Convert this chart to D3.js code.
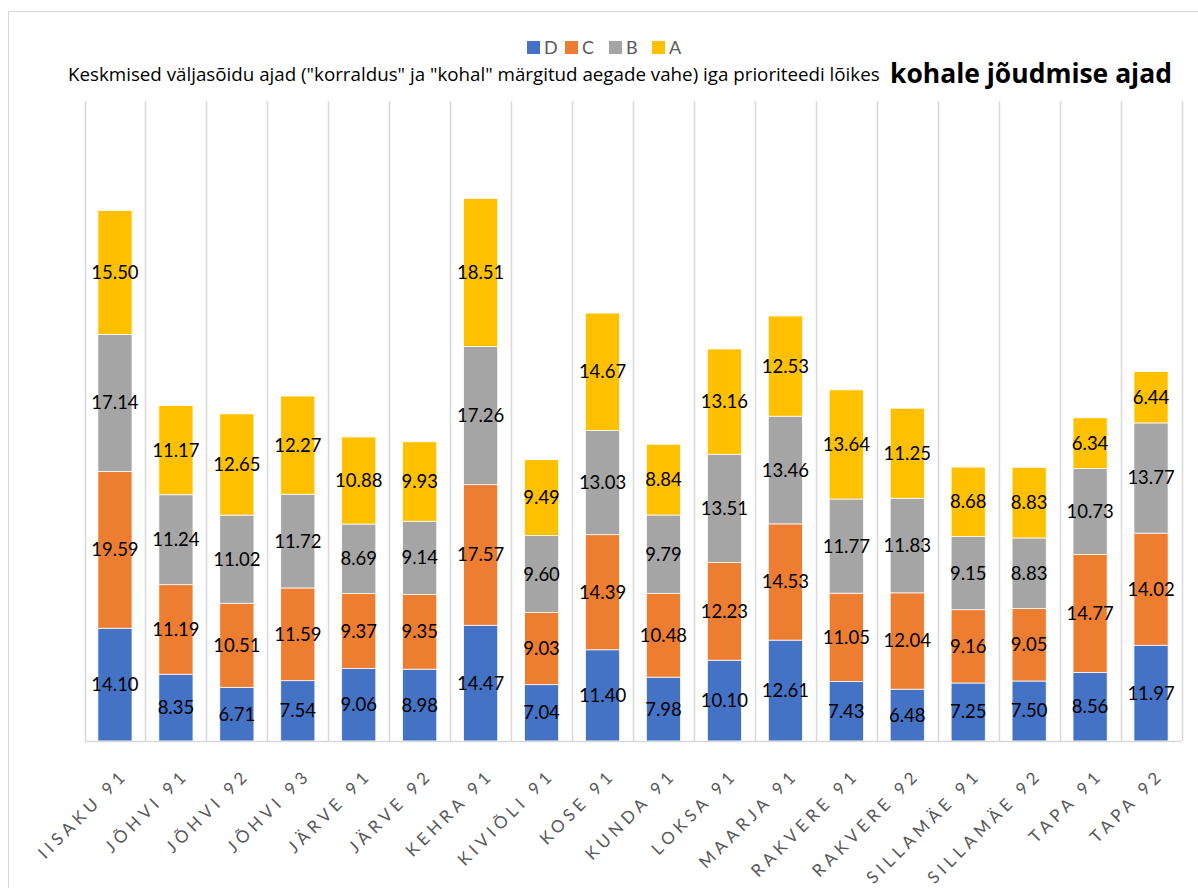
<!DOCTYPE html>
<html><head><meta charset="utf-8">
<script src="https://cdn.jsdelivr.net/npm/d3@7"></script>
<style>
body{margin:0;background:#fff;}
svg{display:block;}
</style></head>
<body>
<svg id="chart" width="1198" height="888"></svg>
<script>
const categories = ["IISAKU 91","JÕHVI 91","JÕHVI 92","JÕHVI 93","JÄRVE 91","JÄRVE 92","KEHRA 91","KIVIÕLI 91","KOSE 91","KUNDA 91","LOKSA 91","MAARJA 91","RAKVERE 91","RAKVERE 92","SILLAMÄE 91","SILLAMÄE 92","TAPA 91","TAPA 92"];
const seriesNames = ["D","C","B","A"];
const valuesD = [14.10,8.35,6.71,7.54,9.06,8.98,14.47,7.04,11.40,7.98,10.10,12.61,7.43,6.48,7.25,7.50,8.56,11.97];
const valuesC = [19.59,11.19,10.51,11.59,9.37,9.35,17.57,9.03,14.39,10.48,12.23,14.53,11.05,12.04,9.16,9.05,14.77,14.02];
const valuesB = [17.14,11.24,11.02,11.72,8.69,9.14,17.26,9.60,13.03,9.79,13.51,13.46,11.77,11.83,9.15,8.83,10.73,13.77];
const valuesA = [15.50,11.17,12.65,12.27,10.88,9.93,18.51,9.49,14.67,8.84,13.16,12.53,13.64,11.25,8.68,8.83,6.34,6.44];
const colors = ["#4472C4","#ED7D31","#A5A5A5","#FFC000"];
const titleSmall = 'Keskmised väljasõidu ajad ("korraldus" ja "kohal" märgitud aegade vahe) iga prioriteedi lõikes';
const titleBold = "kohale jõudmise ajad";

const rows = categories.map((c,i)=>({cat:c, D:valuesD[i], C:valuesC[i], B:valuesB[i], A:valuesA[i]}));
const stack = d3.stack().keys(seriesNames)(rows);

const svg = d3.select("#chart");
svg.append("rect").attr("x",8.5).attr("y",11.5).attr("width",1210).attr("height",900)
  .attr("fill","#fff").attr("stroke","#d9d9d9").attr("stroke-width",1);

const x = d3.scaleBand().domain(categories).range([84.5,1181.5]).paddingInner(0.44).paddingOuter(0.22);
const y = d3.scaleLinear().domain([0,80]).range([741,101]);

// vertical gridlines between categories
const gridX = d3.range(categories.length+1).map(i=>84.5 + i*(1097/categories.length));
svg.append("g").selectAll("line").data(gridX).join("line")
  .attr("x1",d=>Math.round(d)+0.5).attr("x2",d=>Math.round(d)+0.5)
  .attr("y1",y(80)).attr("y2",y(0))
  .attr("stroke","#d9d9d9").attr("stroke-width",1.5);

// bars
const g = svg.append("g");
stack.forEach((s,si)=>{
  g.append("g").attr("fill",colors[si]).selectAll("rect").data(s).join("rect")
    .attr("x",d=>x(d.data.cat))
    .attr("width",x.bandwidth())
    .attr("y",d=>y(d[1]))
    .attr("height",d=>y(d[0])-y(d[1]))
    .attr("stroke","#fff").attr("stroke-width",0.75);
});
// labels
stack.forEach((s,si)=>{
  g.append("g").selectAll("text").data(s).join("text")
    .attr("x",d=>x(d.data.cat)+x.bandwidth()/2)
    .attr("y",d=>(y(d[0])+y(d[1]))/2)
    .attr("dy","0.35em")
    .attr("text-anchor","middle")
    .attr("font-family","Lato, 'Open Sans', sans-serif")
    .attr("font-size",18.5)
    .attr("fill","#000")
    .text(d=>(d[1]-d[0]).toFixed(2));
});

// baseline axis
const xAxis = d3.axisBottom(x).tickSize(0).tickPadding(0);
const ax = svg.append("g").attr("transform","translate(0,741)").call(xAxis);
ax.select(".domain").attr("stroke","#d9d9d9").attr("stroke-width",1.5).attr("d","M84.5,0.5H1181.5");
ax.selectAll(".tick text")
  .attr("font-family","Lato, 'Open Sans', sans-serif")
  .attr("font-size",17)
  .attr("fill","#595959")
  .attr("letter-spacing","4.5px")
  .attr("text-anchor","end")
  .attr("transform","translate(14,35) rotate(-45)")
  .attr("y",0).attr("dy",0).attr("x",0);

// legend
const legendX = [527,565,609,652];
const lg = svg.append("g");
seriesNames.forEach((n,i)=>{
  lg.append("rect").attr("x",legendX[i]).attr("y",41).attr("width",13).attr("height",13).attr("fill",colors[i]);
  lg.append("text").attr("x",legendX[i]+17).attr("y",54).attr("font-family","Lato, 'Open Sans', sans-serif")
    .attr("font-size",18).attr("fill","#595959").text(n);
});

// title: size the font so the natural width fits the target width
function fitText(sel, target, baseSize){
  sel.attr("font-size",baseSize);
  const w = sel.node().getComputedTextLength();
  sel.attr("font-size", baseSize*target/w);
}
const t1 = svg.append("text").attr("x",68).attr("y",81).attr("font-family","'Open Sans', Lato, sans-serif")
  .attr("fill","#000").text(titleSmall);
fitText(t1, 812, 15);
const t2 = svg.append("text").attr("x",890).attr("y",83).attr("font-family","'Open Sans', Lato, sans-serif")
  .attr("font-weight","bold").attr("fill","#000").text(titleBold);
fitText(t2, 282, 24);
</script>
</body></html>
